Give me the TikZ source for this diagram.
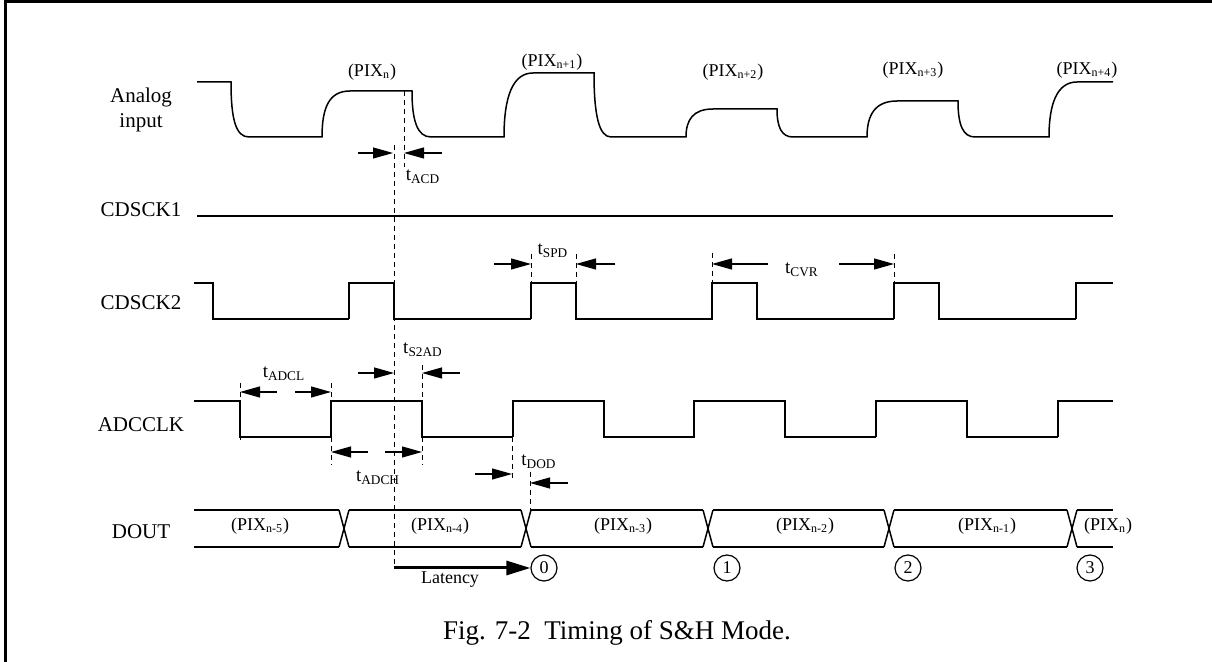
\documentclass[tikz,border=0pt]{standalone}
\usepackage{fontspec}
\setmainfont{Liberation Serif}
\usetikzlibrary{arrows.meta}

\newcommand{\pix}[1]{(PIX\textsubscript{#1})}
\newcommand{\tname}[1]{t\textsubscript{#1}}

\begin{document}
\begin{tikzpicture}[x=0.5pt, y=-0.5pt,
    sig/.style={line width=0.75pt},
    guide/.style={dash pattern=on 2.5pt off 2pt, line width=0.5pt},
    tdim/.style={-{Triangle[length=10pt, width=5.5pt]}, line width=0.6pt},
    siglabel/.style={font=\fontsize{10.5}{12.5}\selectfont, align=center},
    pixtext/.style={font=\fontsize{9}{10}\selectfont, inner sep=0pt},
    tlabel/.style={font=\fontsize{9.5}{10}\selectfont, inner sep=0pt}]
\useasboundingbox (0,0) rectangle (1212,662);

% 1. 外框
\draw[line width=1.5pt] (5,662) -- (5,1.5) -- (1212,1.5);

% 2. 信号名称
\node[siglabel] (lAnalog) at (141,110) {Analog\\input};
\foreach \name/\y in {CDSCK1/210, CDSCK2/303, ADCCLK/425, DOUT/532}
    {\node[siglabel] (l\name) at (141,\y) {\name};}

% 3. 模拟输入
\draw[sig] (197,82) -- (231,82)
    .. controls (231,120) and (236,137) .. (249,137) -- (322,137)
    .. controls (322,106) and (330,91) .. (350,91) -- (412,91)
    .. controls (412,120) and (417,137) .. (431,137) -- (504,137)
    .. controls (504,96) and (513,73) .. (533,73) -- (594,73)
    .. controls (594,115) and (599,137) .. (611,137) -- (686,137)
    .. controls (686,120) and (693,109) .. (713,109) -- (777,109)
    .. controls (777,128) and (782,137) .. (793,137) -- (867,137)
    .. controls (867,115) and (875,101) .. (897,101) -- (958,101)
    .. controls (958,125) and (963,137) .. (975,137) -- (1049,137)
    .. controls (1049,104) and (1057,82) .. (1077,82) -- (1113,82);
\foreach \loc/\y/\s [count=\i] in
    {372/72/n, 552/62/n+1, 733/72/n+2, 913/70/n+3, 1087/70/n+4}
    {\node[pixtext] (pixA\i) at (\loc,\y) {\pix{\s}};}

% 4. CDSCK1
\draw[sig] (197,216) -- (1113,216);

% 5. CDSCK2
\draw[sig] (194,283) -- (213,283) -- (213,319) -- (349,319);
\foreach \x in {349, 531, 712, 894}
    {\draw[sig] (\x,319) -- (\x,283) -- (\x+45,283) -- (\x+45,319) -- (\x+182,319);}
\draw[sig] (1076,319) -- (1076,283) -- (1113,283);

% 6. ADCCLK
\draw[sig] (194,401) -- (240,401) -- (240,437) -- (331,437);
\foreach \x in {331, 513, 694, 876}
    {\draw[sig] (\x,437) -- (\x,401) -- (\x+91,401) -- (\x+91,437) -- (\x+182,437);}
\draw[sig] (1058,437) -- (1058,401) -- (1113,401);

% 7. DOUT
\foreach \a/\b in {194/339, 349/521, 531/703, 713/884, 894/1067, 1077/1113}
    {\draw[sig] (\a,510) -- (\b,510);
     \draw[sig] (\a,547) -- (\b,547);}
\foreach \c in {344, 526, 708, 889, 1072}
    {\draw[sig] (\c-5,510) -- (\c+5,547);
     \draw[sig] (\c-5,547) -- (\c+5,510);}
\foreach \loc/\s [count=\i] in
    {260/n-5, 440/n-4, 623/n-3, 805/n-2, 987/n-1, 1108/n}
    {\node[pixtext] (pixD\i) at (\loc,526) {\pix{\s}};}

% 8. 虚线
\draw[guide] (394,145) -- (394,566);
\draw[guide] (404,91) -- (404,167);
\foreach \x/\ya/\yb in {531/254/283, 576/254/283, 712/253/283, 894/254/283,
                        240/383/440, 331/383/465, 422/365/465,
                        512/437/478, 530/472/510}
    {\draw[guide] (\x,\ya) -- (\x,\yb);}

% 9. 时间参数
\draw[tdim] (358,153) -- (393,153);
\draw[tdim] (442,153) -- (404,153);
\node[tlabel] (tACD) at (423,177) {\tname{ACD}};

\draw[tdim] (494,264) -- (531,264);
\draw[tdim] (615,264) -- (576,264);
\node[tlabel] (tSPD) at (553,251) {\tname{SPD}};

\draw[tdim] (768,264) -- (712,264);
\draw[tdim] (839,264) -- (894,264);
\node[tlabel] (tCVR) at (802,270) {\tname{CVR}};

\draw[tdim] (277,392) -- (240,392);
\draw[tdim] (295,392) -- (331,392);
\node[tlabel] (tADCL) at (284,374) {\tname{ADCL}};

\draw[tdim] (358,373) -- (394,373);
\draw[tdim] (460,373) -- (422,373);
\node[tlabel] (tS2AD) at (423,350) {\tname{S2AD}};

\draw[tdim] (368,452) -- (331,452);
\draw[tdim] (385,452) -- (422,452);
\node[tlabel] (tADCH) at (378,478) {\tname{ADCH}};

\draw[tdim] (475,474) -- (512,474);
\draw[tdim] (568,483) -- (530,483);
\node[tlabel] (tDOD) at (539,462) {\tname{DOD}};

% 10. 延迟与编号
\foreach \loc/\n in {544/0, 727/1, 908/2, 1090/3}
    {\node[draw, circle, line width=0.6pt, minimum size=13pt, inner sep=0pt,
           font=\fontsize{9}{10}\selectfont] (c\n) at (\loc,568) {\n};}
\draw[line width=1.5pt, -{Triangle[length=12pt, width=7pt]}] (394,568) -- (c0.west);
\node[pixtext] (latency) at (450,580) {Latency};

% 11. 图题
\node[font=\fontsize{13.5}{15}\selectfont] (caption) at (617,633)
    {Fig. 7-2\ \ Timing of S\&H Mode.};
\end{tikzpicture}
\end{document}
